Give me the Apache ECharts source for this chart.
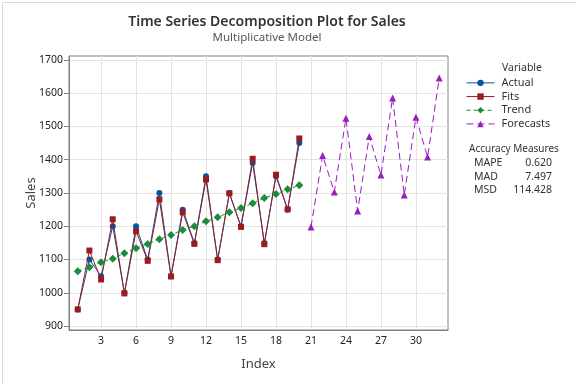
<!DOCTYPE html>
<html>
<head>
<meta charset="utf-8">
<script src="https://cdn.jsdelivr.net/npm/echarts@6/dist/echarts.min.js"></script>
<style>
html,body{margin:0;padding:0;background:#fff;}
#c{width:576px;height:384px;}
</style>
</head>
<body>
<div id="c"></div>
<script>
// ---- data ----
const indexObs = [1,2,3,4,5,6,7,8,9,10,11,12,13,14,15,16,17,18,19,20];
const actual = [950,1100,1050,1200,1000,1200,1100,1300,1050,1250,1150,1350,1100,1300,1200,1390,1150,1350,1250,1450];
const fits = [950,1127,1040,1221,998,1185,1096,1281,1049,1242,1147,1341,1098,1299,1198,1403,1146,1355,1251,1464];
const trend = [1065,1077,1092,1102,1119,1134,1147,1161,1174,1189,1200,1215,1227,1242,1255,1269,1285,1297,1311,1323];
const indexFc = [21,22,23,24,25,26,27,28,29,30,31,32];
const forecasts = [1198,1413,1303,1525,1246,1470,1354,1586,1294,1528,1408,1646];
const xTicks = [3,6,9,12,15,18,21,24,27,30];
const yTicks = [900,1000,1100,1200,1300,1400,1500,1600,1700];
const accLabels = ['MAPE','MAD','MSD'];
const accValues = ['0.620','7.497','114.428'];

const FONT = '"Noto Sans", "Open Sans", sans-serif';
const pair = (xs, ys) => xs.map((x, i) => [x, ys[i]]);

const chart = echarts.init(document.getElementById('c'), null, {renderer: 'canvas'});

const accGraphics = [];
accGraphics.push({type:'text', left: 469, top: 144, style:{text:'Accuracy Measures', font:'10px ' + FONT, fill:'#333'}});
accLabels.forEach((l, i) => {
  accGraphics.push({type:'text', left: 474, top: 158 + i*13.5, style:{text:l, font:'10.5px ' + FONT, fill:'#333'}});
  accGraphics.push({type:'text', right: 24, top: 158 + i*13.5, style:{text:accValues[i], font:'10.5px ' + FONT, fill:'#333', align:'right'}});
});

chart.setOption({
  animation: false,
  backgroundColor: '#fff',
  textStyle: {fontFamily: FONT},
  title: {
    text: 'Time Series Decomposition Plot for Sales',
    subtext: 'Multiplicative Model',
    left: 262, textAlign: 'center', top: 10,
    itemGap: 3,
    textStyle: {fontFamily: FONT, fontSize: 14, fontWeight: 600, color: '#333'},
    subtextStyle: {fontFamily: FONT, fontSize: 11.5, color: '#555'}
  },
  legend: {
    orient: 'vertical',
    left: 466, top: 76, padding: 0,
    itemWidth: 28, itemHeight: 8, itemGap: 0,
    textStyle: {fontFamily: FONT, fontSize: 11, color: '#333', padding: [0,0,0,2], height: 13.7, lineHeight: 13.7},
    lineStyle: {width: 1},
    data: ['Actual','Fits','Trend','Forecasts']
  },
  graphic: [
    {type:'rect', left:0, top:0, shape:{x:0,y:0,width:575,height:383}, style:{fill:'none', stroke:'#d9d9d9', lineWidth:1}, silent:true},
    {type:'text', left: 502, top: 63, style:{text:'Variable', font:'10.5px ' + FONT, fill:'#333'}},
    ...accGraphics
  ],
  grid: {left: 69, top: 56, right: 128, bottom: 54, show: true, borderColor: '#808080', borderWidth: 1},
  xAxis: {
    type: 'value', min: 0.25, max: 32.75,
    name: 'Index', nameLocation: 'middle', nameGap: 28,
    nameTextStyle: {fontFamily: FONT, fontSize: 13, color: '#444'},
    axisLine: {show: true, lineStyle: {color: '#808080'}},
    axisTick: {show: false, customValues: xTicks},
    axisLabel: {customValues: xTicks, fontSize: 10.5, color: '#222', margin: 6, fontFamily: FONT},
    splitLine: {show: true, lineStyle: {color: '#e3e3e3', width: 1}}
  },
  yAxis: {
    type: 'value', min: 888, max: 1712,
    name: 'Sales', nameLocation: 'middle', nameGap: 31, nameRotate: 90, nameMoveOverlap: false,
    nameTextStyle: {fontFamily: FONT, fontSize: 13, color: '#444'},
    axisLine: {show: true, lineStyle: {color: '#808080'}},
    axisTick: {show: true, length: 5, customValues: yTicks, lineStyle: {color: '#808080'}},
    axisLabel: {customValues: yTicks, fontSize: 10.5, color: '#222', margin: 6, fontFamily: FONT,
                formatter: v => String(v)},
    splitLine: {show: true, lineStyle: {color: '#e3e3e3', width: 1}}
  },
  series: [
    {name:'Actual', type:'line', data: pair(indexObs, actual), symbol:'circle', symbolSize:6,
     itemStyle:{color:'#0054A6'}, lineStyle:{color:'#0054A6', width:1}, z: 2},
    {name:'Fits', type:'line', data: pair(indexObs, fits), symbol:'rect', symbolSize:6,
     itemStyle:{color:'#9B1B1E'}, lineStyle:{color:'#9B1B1E', width:1}, z: 3},
    {name:'Trend', type:'line', data: pair(indexObs, trend), symbol:'diamond', symbolSize:8,
     itemStyle:{color:'#1A8C3A'}, lineStyle:{color:'#1A8C3A', width:1, type:[4,3]}, z: 4},
    {name:'Forecasts', type:'line', data: pair(indexFc, forecasts), symbol:'triangle', symbolSize:7,
     itemStyle:{color:'#9B1CBF'}, lineStyle:{color:'#9B1CBF', width:1, type:[7,4]}, z: 4}
  ]
});
</script>
</body>
</html>
